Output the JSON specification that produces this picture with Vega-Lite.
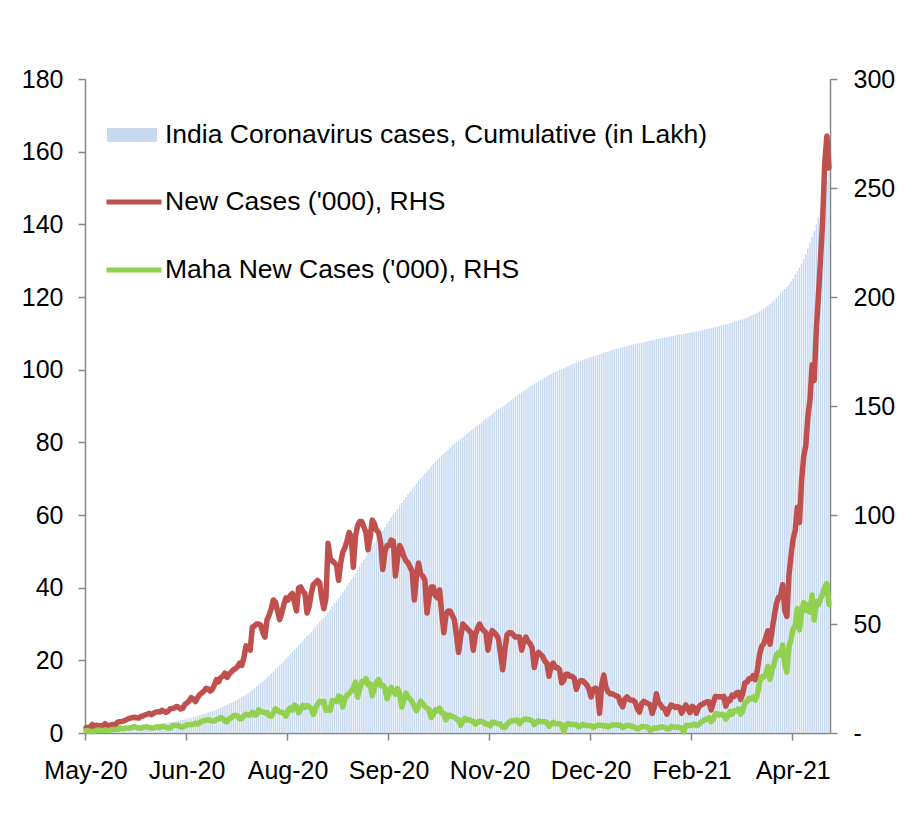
{
"$schema": "https://vega.github.io/schema/vega-lite/v6.json",
"width": 745, "height": 654,
"autosize": {"type": "none"},
"padding": {"left": 85, "top": 79, "right": 76, "bottom": 86},
"background": "white",
"config": {
  "font": "Liberation Sans",
  "view": {"stroke": null},
  "axis": {"grid": false, "domainColor": "#868686", "tickColor": "#868686", "labelColor": "#000000", "labelFont": "Liberation Sans", "labelFontSize": 25, "domainWidth": 1.5, "tickWidth": 1.5, "tickSize": 7, "title": null},
  "legend": {"labelFont": "Liberation Sans", "labelColor": "#000000", "labelFontSize": 26.5, "labelLimit": 1000}
},
"data": {"values": [
{"d":"2020-05-01","c":0.37,"n":2.4,"m":1.0},{"d":"2020-05-02","c":0.4,"n":2.6,"m":1.0},{"d":"2020-05-03","c":0.42,"n":2.5,"m":0.7},{"d":"2020-05-04","c":0.46,"n":3.9,"m":0.7},{"d":"2020-05-05","c":0.49,"n":2.9,"m":0.8},{"d":"2020-05-06","c":0.53,"n":3.6,"m":1.2},{"d":"2020-05-07","c":0.56,"n":3.3,"m":1.4},{"d":"2020-05-08","c":0.59,"n":3.3,"m":1.1},{"d":"2020-05-09","c":0.62,"n":3.3,"m":1.2},{"d":"2020-05-10","c":0.67,"n":4.3,"m":1.3},{"d":"2020-05-11","c":0.7,"n":3.6,"m":1.2},{"d":"2020-05-12","c":0.74,"n":3.5,"m":1.0},{"d":"2020-05-13","c":0.78,"n":3.7,"m":1.5},{"d":"2020-05-14","c":0.81,"n":3.9,"m":1.6},{"d":"2020-05-15","c":0.85,"n":3.8,"m":1.6},{"d":"2020-05-16","c":0.9,"n":5.0,"m":1.6},{"d":"2020-05-17","c":0.95,"n":5.2,"m":2.3},{"d":"2020-05-18","c":1.01,"n":5.3,"m":2.0},{"d":"2020-05-19","c":1.06,"n":5.6,"m":2.1},{"d":"2020-05-20","c":1.12,"n":6.0,"m":2.3},{"d":"2020-05-21","c":1.19,"n":6.5,"m":2.3},{"d":"2020-05-22","c":1.26,"n":6.8,"m":2.3},{"d":"2020-05-23","c":1.33,"n":7.0,"m":2.6},{"d":"2020-05-24","c":1.4,"n":7.2,"m":3.0},{"d":"2020-05-25","c":1.47,"n":7.0,"m":2.4},{"d":"2020-05-26","c":1.54,"n":6.8,"m":2.4},{"d":"2020-05-27","c":1.61,"n":7.6,"m":2.2},{"d":"2020-05-28","c":1.69,"n":7.8,"m":2.6},{"d":"2020-05-29","c":1.77,"n":8.3,"m":2.7},{"d":"2020-05-30","c":1.86,"n":8.6,"m":2.9},{"d":"2020-05-31","c":1.95,"n":9.0,"m":2.5},
{"d":"2020-06-01","c":2.03,"n":8.4,"m":2.4},{"d":"2020-06-02","c":2.12,"n":9.0,"m":2.3},{"d":"2020-06-03","c":2.22,"n":9.6,"m":2.6},{"d":"2020-06-04","c":2.32,"n":9.8,"m":2.9},{"d":"2020-06-05","c":2.41,"n":9.6,"m":2.4},{"d":"2020-06-06","c":2.52,"n":10.4,"m":3.0},{"d":"2020-06-07","c":2.62,"n":10.0,"m":3.0},{"d":"2020-06-08","c":2.71,"n":9.4,"m":2.6},{"d":"2020-06-09","c":2.81,"n":10.0,"m":2.3},{"d":"2020-06-10","c":2.92,"n":11.1,"m":2.3},{"d":"2020-06-11","c":3.03,"n":11.2,"m":3.3},{"d":"2020-06-12","c":3.15,"n":11.5,"m":3.5},{"d":"2020-06-13","c":3.27,"n":12.2,"m":3.4},{"d":"2020-06-14","c":3.39,"n":11.8,"m":3.4},{"d":"2020-06-15","c":3.5,"n":11.0,"m":2.8},{"d":"2020-06-16","c":3.61,"n":11.4,"m":2.7},{"d":"2020-06-17","c":3.75,"n":13.2,"m":3.3},{"d":"2020-06-18","c":3.88,"n":13.8,"m":3.8},{"d":"2020-06-19","c":4.03,"n":14.8,"m":3.8},{"d":"2020-06-20","c":4.19,"n":16.2,"m":3.9},{"d":"2020-06-21","c":4.35,"n":15.6,"m":3.9},{"d":"2020-06-22","c":4.49,"n":14.4,"m":4.5},{"d":"2020-06-23","c":4.66,"n":16.2,"m":4.0},{"d":"2020-06-24","c":4.83,"n":17.6,"m":4.6},{"d":"2020-06-25","c":5.02,"n":18.4,"m":5.4},{"d":"2020-06-26","c":5.21,"n":19.2,"m":5.6},{"d":"2020-06-27","c":5.41,"n":20.5,"m":5.9},{"d":"2020-06-28","c":5.61,"n":20.2,"m":6.1},{"d":"2020-06-29","c":5.81,"n":19.2,"m":5.8},{"d":"2020-06-30","c":6.01,"n":20.0,"m":5.5},
{"d":"2020-07-01","c":6.23,"n":22.0,"m":5.5},{"d":"2020-07-02","c":6.47,"n":24.5,"m":6.3},{"d":"2020-07-03","c":6.71,"n":23.5,"m":6.4},{"d":"2020-07-04","c":6.96,"n":25.5,"m":7.1},{"d":"2020-07-05","c":7.22,"n":26.0,"m":6.6},{"d":"2020-07-06","c":7.5,"n":27.5,"m":5.4},{"d":"2020-07-07","c":7.75,"n":25.5,"m":5.1},{"d":"2020-07-08","c":8.02,"n":27.0,"m":6.6},{"d":"2020-07-09","c":8.3,"n":28.0,"m":6.9},{"d":"2020-07-10","c":8.59,"n":29.0,"m":7.9},{"d":"2020-07-11","c":8.89,"n":29.5,"m":8.1},{"d":"2020-07-12","c":9.19,"n":30.5,"m":7.8},{"d":"2020-07-13","c":9.51,"n":32.0,"m":6.5},{"d":"2020-07-14","c":9.82,"n":31.0,"m":6.7},{"d":"2020-07-15","c":10.17,"n":34.5,"m":7.9},{"d":"2020-07-16","c":10.57,"n":40.0,"m":8.6},{"d":"2020-07-17","c":10.96,"n":39.0,"m":8.3},{"d":"2020-07-18","c":11.34,"n":38.0,"m":8.3},{"d":"2020-07-19","c":11.82,"n":48.6,"m":9.5},{"d":"2020-07-20","c":12.31,"n":49.0,"m":8.2},{"d":"2020-07-21","c":12.81,"n":50.0,"m":8.4},{"d":"2020-07-22","c":13.31,"n":50.0,"m":10.6},{"d":"2020-07-23","c":13.81,"n":49.5,"m":9.9},{"d":"2020-07-24","c":14.27,"n":46.0,"m":9.6},{"d":"2020-07-25","c":14.71,"n":44.0,"m":9.3},{"d":"2020-07-26","c":15.23,"n":52.0,"m":9.4},{"d":"2020-07-27","c":15.77,"n":54.0,"m":7.9},{"d":"2020-07-28","c":16.34,"n":57.0,"m":7.7},{"d":"2020-07-29","c":16.95,"n":61.0,"m":9.2},{"d":"2020-07-30","c":17.55,"n":60.0,"m":11.1},{"d":"2020-07-31","c":18.11,"n":56.0,"m":10.3},
{"d":"2020-08-01","c":18.63,"n":52,"m":9.6},{"d":"2020-08-02","c":19.18,"n":55,"m":9.5},{"d":"2020-08-03","c":19.77,"n":59,"m":9.0},{"d":"2020-08-04","c":20.39,"n":62,"m":7.8},{"d":"2020-08-05","c":21.0,"n":61,"m":10.3},{"d":"2020-08-06","c":21.63,"n":63,"m":11.5},{"d":"2020-08-07","c":22.27,"n":64,"m":10.5},{"d":"2020-08-08","c":22.87,"n":60,"m":12.8},{"d":"2020-08-09","c":23.43,"n":56,"m":12.2},{"d":"2020-08-10","c":24.09,"n":66.5,"m":9.2},{"d":"2020-08-11","c":24.76,"n":67,"m":11.1},{"d":"2020-08-12","c":25.41,"n":65,"m":12.7},{"d":"2020-08-13","c":26.05,"n":64,"m":11.8},{"d":"2020-08-14","c":26.6,"n":55,"m":12.6},{"d":"2020-08-15","c":27.18,"n":58,"m":12.0},{"d":"2020-08-16","c":27.82,"n":64,"m":11.1},{"d":"2020-08-17","c":28.5,"n":68,"m":8.5},{"d":"2020-08-18","c":29.19,"n":69,"m":11.1},{"d":"2020-08-19","c":29.89,"n":70,"m":13.2},{"d":"2020-08-20","c":30.58,"n":69,"m":14.5},{"d":"2020-08-21","c":31.2,"n":62,"m":14.2},{"d":"2020-08-22","c":31.77,"n":57,"m":14.5},{"d":"2020-08-23","c":32.39,"n":62,"m":10.4},{"d":"2020-08-24","c":33.26,"n":87,"m":11.0},{"d":"2020-08-25","c":34.06,"n":80,"m":10.4},{"d":"2020-08-26","c":34.85,"n":79,"m":14.9},{"d":"2020-08-27","c":35.63,"n":78,"m":14.7},{"d":"2020-08-28","c":36.4,"n":77,"m":14.4},{"d":"2020-08-29","c":37.1,"n":70,"m":16.9},{"d":"2020-08-30","c":37.88,"n":78,"m":16.4},{"d":"2020-08-31","c":38.71,"n":83,"m":11.9},
{"d":"2020-09-01","c":39.56,"n":85,"m":15.8},{"d":"2020-09-02","c":40.44,"n":88,"m":17.4},{"d":"2020-09-03","c":41.36,"n":92,"m":18.1},{"d":"2020-09-04","c":42.26,"n":90,"m":19.2},{"d":"2020-09-05","c":43.02,"n":76,"m":20.5},{"d":"2020-09-06","c":43.92,"n":90,"m":23.4},{"d":"2020-09-07","c":44.87,"n":95,"m":16.4},{"d":"2020-09-08","c":45.84,"n":97,"m":20.1},{"d":"2020-09-09","c":46.81,"n":97,"m":23.6},{"d":"2020-09-10","c":47.76,"n":94.5,"m":23.4},{"d":"2020-09-11","c":48.68,"n":92,"m":24.9},{"d":"2020-09-12","c":49.52,"n":84,"m":22.1},{"d":"2020-09-13","c":50.42,"n":90,"m":22.5},{"d":"2020-09-14","c":51.39,"n":97.7,"m":17.1},{"d":"2020-09-15","c":52.35,"n":96,"m":20.5},{"d":"2020-09-16","c":53.28,"n":93,"m":23.4},{"d":"2020-09-17","c":54.2,"n":92,"m":24.6},{"d":"2020-09-18","c":55.07,"n":87,"m":21.7},{"d":"2020-09-19","c":55.82,"n":75,"m":21.9},{"d":"2020-09-20","c":56.65,"n":83,"m":20.6},{"d":"2020-09-21","c":57.51,"n":86,"m":15.7},{"d":"2020-09-22","c":58.37,"n":86,"m":18.4},{"d":"2020-09-23","c":59.26,"n":88.5,"m":21.0},{"d":"2020-09-24","c":60.14,"n":88,"m":19.2},{"d":"2020-09-25","c":60.86,"n":72,"m":17.8},{"d":"2020-09-26","c":61.66,"n":80,"m":20.4},{"d":"2020-09-27","c":62.52,"n":86,"m":18.1},{"d":"2020-09-28","c":63.36,"n":84,"m":11.9},{"d":"2020-09-29","c":64.17,"n":81,"m":15.0},{"d":"2020-09-30","c":64.96,"n":79,"m":18.3},
{"d":"2020-10-01","c":65.74,"n":78,"m":16.5},{"d":"2020-10-02","c":66.5,"n":76,"m":15.6},{"d":"2020-10-03","c":67.24,"n":74,"m":14.3},{"d":"2020-10-04","c":67.85,"n":61,"m":12.3},{"d":"2020-10-05","c":68.57,"n":72,"m":10.2},{"d":"2020-10-06","c":69.35,"n":78,"m":12.3},{"d":"2020-10-07","c":70.08,"n":73,"m":14.6},{"d":"2020-10-08","c":70.8,"n":72,"m":13.4},{"d":"2020-10-09","c":71.5,"n":70,"m":12.1},{"d":"2020-10-10","c":72.05,"n":55,"m":11.4},{"d":"2020-10-11","c":72.67,"n":62,"m":10.8},{"d":"2020-10-12","c":73.34,"n":67,"m":7.1},{"d":"2020-10-13","c":74.01,"n":67,"m":8.5},{"d":"2020-10-14","c":74.64,"n":63,"m":10.6},{"d":"2020-10-15","c":75.26,"n":62,"m":10.2},{"d":"2020-10-16","c":75.92,"n":65.6,"m":11.4},{"d":"2020-10-17","c":76.47,"n":55,"m":9.1},{"d":"2020-10-18","c":76.93,"n":46,"m":9.1},{"d":"2020-10-19","c":77.47,"n":54,"m":6.0},{"d":"2020-10-20","c":78.03,"n":56,"m":8.2},{"d":"2020-10-21","c":78.59,"n":56,"m":8.1},{"d":"2020-10-22","c":79.13,"n":54,"m":7.5},{"d":"2020-10-23","c":79.65,"n":52,"m":7.3},{"d":"2020-10-24","c":80.1,"n":45,"m":6.4},{"d":"2020-10-25","c":80.47,"n":37,"m":6.1},{"d":"2020-10-26","c":80.91,"n":44,"m":3.6},{"d":"2020-10-27","c":81.41,"n":50,"m":5.4},{"d":"2020-10-28","c":81.9,"n":49,"m":6.7},{"d":"2020-10-29","c":82.38,"n":48,"m":5.9},{"d":"2020-10-30","c":82.85,"n":47,"m":6.2},{"d":"2020-10-31","c":83.31,"n":46,"m":5.5},
{"d":"2020-11-01","c":83.69,"n":38,"m":5.4},{"d":"2020-11-02","c":84.14,"n":45,"m":4.0},{"d":"2020-11-03","c":84.62,"n":48,"m":4.9},{"d":"2020-11-04","c":85.12,"n":50,"m":5.5},{"d":"2020-11-05","c":85.6,"n":48,"m":5.2},{"d":"2020-11-06","c":86.07,"n":47,"m":4.9},{"d":"2020-11-07","c":86.53,"n":46,"m":4.0},{"d":"2020-11-08","c":86.91,"n":38,"m":4.0},{"d":"2020-11-09","c":87.35,"n":44,"m":3.3},{"d":"2020-11-10","c":87.82,"n":47,"m":4.9},{"d":"2020-11-11","c":88.28,"n":46,"m":4.9},{"d":"2020-11-12","c":88.73,"n":45,"m":4.5},{"d":"2020-11-13","c":89.16,"n":43,"m":4.1},{"d":"2020-11-14","c":89.52,"n":36,"m":4.1},{"d":"2020-11-15","c":89.81,"n":29,"m":2.5},{"d":"2020-11-16","c":90.19,"n":38,"m":2.5},{"d":"2020-11-17","c":90.64,"n":45,"m":3.8},{"d":"2020-11-18","c":91.1,"n":46,"m":5.0},{"d":"2020-11-19","c":91.56,"n":46,"m":5.5},{"d":"2020-11-20","c":92.01,"n":45,"m":5.6},{"d":"2020-11-21","c":92.45,"n":44,"m":5.8},{"d":"2020-11-22","c":92.89,"n":44,"m":5.8},{"d":"2020-11-23","c":93.33,"n":44,"m":4.2},{"d":"2020-11-24","c":93.71,"n":38,"m":5.4},{"d":"2020-11-25","c":94.13,"n":42,"m":6.2},{"d":"2020-11-26","c":94.57,"n":44,"m":6.4},{"d":"2020-11-27","c":94.99,"n":42,"m":6.2},{"d":"2020-11-28","c":95.4,"n":41,"m":6.0},{"d":"2020-11-29","c":95.79,"n":39,"m":5.5},{"d":"2020-11-30","c":96.09,"n":30,"m":3.8},
{"d":"2020-12-01","c":96.44,"n":35,"m":4.9},{"d":"2020-12-02","c":96.81,"n":37,"m":5.6},{"d":"2020-12-03","c":97.17,"n":36,"m":5.2},{"d":"2020-12-04","c":97.52,"n":35,"m":5.2},{"d":"2020-12-05","c":97.85,"n":33,"m":5.2},{"d":"2020-12-06","c":98.17,"n":32,"m":4.8},{"d":"2020-12-07","c":98.43,"n":26,"m":3.1},{"d":"2020-12-08","c":98.74,"n":31,"m":4.0},{"d":"2020-12-09","c":99.06,"n":32,"m":4.9},{"d":"2020-12-10","c":99.36,"n":30,"m":4.3},{"d":"2020-12-11","c":99.66,"n":30,"m":4.3},{"d":"2020-12-12","c":99.95,"n":29,"m":4.3},{"d":"2020-12-13","c":100.18,"n":23,"m":3.7},{"d":"2020-12-14","c":100.42,"n":24,"m":0.6},{"d":"2020-12-15","c":100.69,"n":27,"m":3.4},{"d":"2020-12-16","c":100.96,"n":27,"m":4.3},{"d":"2020-12-17","c":101.22,"n":26,"m":3.9},{"d":"2020-12-18","c":101.48,"n":26,"m":3.9},{"d":"2020-12-19","c":101.73,"n":25,"m":3.9},{"d":"2020-12-20","c":101.93,"n":20,"m":3.8},{"d":"2020-12-21","c":102.16,"n":23,"m":2.8},{"d":"2020-12-22","c":102.4,"n":24,"m":3.1},{"d":"2020-12-23","c":102.64,"n":24,"m":4.0},{"d":"2020-12-24","c":102.87,"n":23,"m":3.6},{"d":"2020-12-25","c":103.09,"n":22,"m":3.4},{"d":"2020-12-26","c":103.29,"n":20,"m":3.3},{"d":"2020-12-27","c":103.45,"n":16.5,"m":3.3},{"d":"2020-12-28","c":103.65,"n":20,"m":2.5},{"d":"2020-12-29","c":103.86,"n":20.6,"m":3.0},{"d":"2020-12-30","c":104.06,"n":20,"m":3.5},{"d":"2020-12-31","c":104.15,"n":9,"m":3.5},
{"d":"2021-01-01","c":104.37,"n":22,"m":3.5},{"d":"2021-01-02","c":104.63,"n":26.6,"m":3.2},{"d":"2021-01-03","c":104.84,"n":21,"m":3.3},{"d":"2021-01-04","c":105.03,"n":19,"m":2.8},{"d":"2021-01-05","c":105.21,"n":18,"m":3.2},{"d":"2021-01-06","c":105.39,"n":18,"m":3.7},{"d":"2021-01-07","c":105.57,"n":17.5,"m":3.7},{"d":"2021-01-08","c":105.74,"n":17,"m":3.7},{"d":"2021-01-09","c":105.9,"n":16.5,"m":3.6},{"d":"2021-01-10","c":106.04,"n":13.5,"m":3.6},{"d":"2021-01-11","c":106.16,"n":12,"m":2.4},{"d":"2021-01-12","c":106.31,"n":15.5,"m":2.9},{"d":"2021-01-13","c":106.48,"n":16.5,"m":3.6},{"d":"2021-01-14","c":106.63,"n":15.5,"m":3.6},{"d":"2021-01-15","c":106.78,"n":15,"m":3.1},{"d":"2021-01-16","c":106.93,"n":15,"m":2.9},{"d":"2021-01-17","c":107.07,"n":14,"m":2.4},{"d":"2021-01-18","c":107.18,"n":11,"m":1.9},{"d":"2021-01-19","c":107.28,"n":9.6,"m":2.3},{"d":"2021-01-20","c":107.41,"n":13.5,"m":3.0},{"d":"2021-01-21","c":107.56,"n":14.5,"m":2.9},{"d":"2021-01-22","c":107.7,"n":14,"m":2.8},{"d":"2021-01-23","c":107.83,"n":13.5,"m":2.7},{"d":"2021-01-24","c":107.96,"n":13,"m":1.2},{"d":"2021-01-25","c":108.05,"n":9,"m":1.8},{"d":"2021-01-26","c":108.17,"n":12,"m":2.4},{"d":"2021-01-27","c":108.35,"n":18,"m":2.2},{"d":"2021-01-28","c":108.49,"n":14,"m":2.4},{"d":"2021-01-29","c":108.62,"n":13,"m":2.8},{"d":"2021-01-30","c":108.74,"n":11.5,"m":2.8},{"d":"2021-01-31","c":108.85,"n":11,"m":2.6},
{"d":"2021-02-01","c":108.93,"n":8.6,"m":1.9},{"d":"2021-02-02","c":109.04,"n":11.0,"m":1.9},{"d":"2021-02-03","c":109.17,"n":12.9,"m":3.0},{"d":"2021-02-04","c":109.3,"n":12.4,"m":2.7},{"d":"2021-02-05","c":109.41,"n":11.7,"m":2.6},{"d":"2021-02-06","c":109.54,"n":12.1,"m":2.7},{"d":"2021-02-07","c":109.65,"n":11.8,"m":2.5},{"d":"2021-02-08","c":109.74,"n":9.1,"m":2.2},{"d":"2021-02-09","c":109.86,"n":11.1,"m":0.5},{"d":"2021-02-10","c":109.98,"n":12.9,"m":3.45},{"d":"2021-02-11","c":110.09,"n":11.0,"m":3.45},{"d":"2021-02-12","c":110.19,"n":9.3,"m":3.6},{"d":"2021-02-13","c":110.31,"n":12.2,"m":3.6},{"d":"2021-02-14","c":110.43,"n":11.6,"m":4.1},{"d":"2021-02-15","c":110.52,"n":9.1,"m":3.4},{"d":"2021-02-16","c":110.63,"n":11.6,"m":3.7},{"d":"2021-02-17","c":110.76,"n":12.9,"m":4.8},{"d":"2021-02-18","c":110.89,"n":13.2,"m":5.4},{"d":"2021-02-19","c":111.03,"n":13.9,"m":6.1},{"d":"2021-02-20","c":111.18,"n":14.3,"m":6.3},{"d":"2021-02-21","c":111.32,"n":14.3,"m":7.0},{"d":"2021-02-22","c":111.42,"n":10.6,"m":5.2},{"d":"2021-02-23","c":111.56,"n":13.7,"m":6.2},{"d":"2021-02-24","c":111.73,"n":16.7,"m":8.8},{"d":"2021-02-25","c":111.89,"n":16.6,"m":8.7},{"d":"2021-02-26","c":112.06,"n":16.6,"m":8.3},{"d":"2021-02-27","c":112.23,"n":16.5,"m":8.6},{"d":"2021-02-28","c":112.39,"n":16.8,"m":8.3},
{"d":"2021-03-01","c":112.52,"n":12.3,"m":6.4},{"d":"2021-03-02","c":112.67,"n":15.5,"m":7.9},{"d":"2021-03-03","c":112.82,"n":14.9,"m":9.9},{"d":"2021-03-04","c":112.99,"n":17.4,"m":8.7},{"d":"2021-03-05","c":113.16,"n":16.8,"m":10.2},{"d":"2021-03-06","c":113.35,"n":18.3,"m":10.2},{"d":"2021-03-07","c":113.53,"n":18.7,"m":11.1},{"d":"2021-03-08","c":113.69,"n":15.4,"m":8.7},{"d":"2021-03-09","c":113.87,"n":17.9,"m":9.9},{"d":"2021-03-10","c":114.09,"n":22.9,"m":13.7},{"d":"2021-03-11","c":114.33,"n":23.3,"m":14.3},{"d":"2021-03-12","c":114.58,"n":24.9,"m":15.8},{"d":"2021-03-13","c":114.83,"n":24.9,"m":15.6},{"d":"2021-03-14","c":115.09,"n":26.3,"m":16.6},{"d":"2021-03-15","c":115.33,"n":24.5,"m":15.1},{"d":"2021-03-16","c":115.62,"n":28.9,"m":17.9},{"d":"2021-03-17","c":115.98,"n":35.9,"m":23.2},{"d":"2021-03-18","c":116.38,"n":39.7,"m":25.8},{"d":"2021-03-19","c":116.79,"n":40.9,"m":25.7},{"d":"2021-03-20","c":117.23,"n":43.8,"m":27.1},{"d":"2021-03-21","c":117.69,"n":46.9,"m":30.5},{"d":"2021-03-22","c":118.1,"n":40.7,"m":24.6},{"d":"2021-03-23","c":118.57,"n":47.3,"m":28.7},{"d":"2021-03-24","c":119.11,"n":53.5,"m":31.9},{"d":"2021-03-25","c":119.7,"n":59.1,"m":35.9},{"d":"2021-03-26","c":120.32,"n":62.3,"m":36.9},{"d":"2021-03-27","c":120.95,"n":62.7,"m":35.7},{"d":"2021-03-28","c":121.63,"n":68.0,"m":40.4},{"d":"2021-03-29","c":122.19,"n":56.2,"m":31.6},{"d":"2021-03-30","c":122.73,"n":53.5,"m":27.9},{"d":"2021-03-31","c":123.45,"n":72.3,"m":39.5},
{"d":"2021-04-01","c":124.27,"n":81.5,"m":43.2},{"d":"2021-04-02","c":125.16,"n":89.1,"m":47.8},{"d":"2021-04-03","c":126.09,"n":93.2,"m":49.4},{"d":"2021-04-04","c":127.12,"n":103.6,"m":57.1},{"d":"2021-04-05","c":128.09,"n":96.6,"m":47.3},{"d":"2021-04-06","c":129.25,"n":115.7,"m":55.5},{"d":"2021-04-07","c":130.52,"n":126.8,"m":59.9},{"d":"2021-04-08","c":131.83,"n":131.9,"m":56.3},{"d":"2021-04-09","c":133.29,"n":145.4,"m":58.9},{"d":"2021-04-10","c":134.82,"n":152.9,"m":55.4},{"d":"2021-04-11","c":136.51,"n":168.9,"m":63.3},{"d":"2021-04-12","c":138.12,"n":161.7,"m":51.8},{"d":"2021-04-13","c":139.98,"n":185.2,"m":60.2},{"d":"2021-04-14","c":141.98,"n":200.7,"m":58.9},{"d":"2021-04-15","c":144.16,"n":217.4,"m":61.7},{"d":"2021-04-16","c":146.5,"n":234.7,"m":63.7},{"d":"2021-04-17","c":149.12,"n":261.5,"m":67.1},{"d":"2021-04-18","c":151.86,"n":273.8,"m":68.6},{"d":"2021-04-19","c":154.45,"n":259.2,"m":58.9}
]},
"layer": [
  {
    "mark": {"type": "bar"},
    "encoding": {
      "x": {"field": "d", "type": "ordinal",
            "scale": {"paddingInner": 0.3, "paddingOuter": 0.15},
            "axis": {"values": ["2020-05-01","2020-06-18","2020-08-05","2020-09-22","2020-11-09","2020-12-27","2021-02-13","2021-04-02"],
                     "labelExpr": "utcFormat(toDate(datum.value), '%b-%y')",
                     "bandPosition": 0, "labelAngle": 0, "labelPadding": 18, "labelOverlap": false, "labelFlush": false}},
      "y": {"field": "c", "type": "quantitative",
            "scale": {"domain": [0, 180], "nice": false, "zero": true},
            "axis": {"orient": "left", "values": [0,20,40,60,80,100,120,140,160,180], "labelPadding": 15}},
      "fill": {"datum": "India Coronavirus cases, Cumulative (in Lakh)",
               "scale": {"range": ["#c6d9f1"]},
               "legend": {"orient": "none", "legendX": 22, "legendY": 31, "title": null, "padding": 0,
                          "symbolType": "M-1,-0.28L1,-0.28L1,0.28L-1,0.28Z", "symbolSize": 2500,
                          "symbolStrokeWidth": 0, "labelOffset": 8}}
    }
  },
  {
    "encoding": {"x": {"field": "d", "type": "ordinal"}},
    "layer": [
      {
        "mark": {"type": "line", "strokeWidth": 5.5, "strokeJoin": "round", "strokeCap": "round"},
        "encoding": {
          "y": {"field": "n", "type": "quantitative",
                "scale": {"domain": [0, 300], "nice": false},
                "axis": {"orient": "right", "values": [0,50,100,150,200,250,300], "labelPadding": 16,
                         "labelExpr": "datum.value == 0 ? '\u00a0\u00a0-' : datum.label"}},
          "stroke": {"datum": "New Cases ('000), RHS",
                     "scale": {"domain": ["New Cases ('000), RHS", "Maha New Cases ('000), RHS"], "range": ["#c0504d", "#92d050"]},
                     "legend": {"orient": "none", "legendX": 19, "legendY": 93, "title": null, "padding": 0,
                                "symbolType": "stroke", "symbolSize": 3025, "symbolStrokeWidth": 5,
                                "labelOffset": 1, "rowPadding": 24}}
        }
      },
      {
        "mark": {"type": "line", "strokeWidth": 5.5, "strokeJoin": "round", "strokeCap": "round"},
        "encoding": {
          "y": {"field": "m", "type": "quantitative",
                "scale": {"domain": [0, 300], "nice": false},
                "axis": {"orient": "right", "values": [0,50,100,150,200,250,300], "labelPadding": 16,
                         "labelExpr": "datum.value == 0 ? '\u00a0\u00a0-' : datum.label"}},
          "stroke": {"datum": "Maha New Cases ('000), RHS"}
        }
      }
    ]
  }
],
"resolve": {"scale": {"y": "independent"}}
}
